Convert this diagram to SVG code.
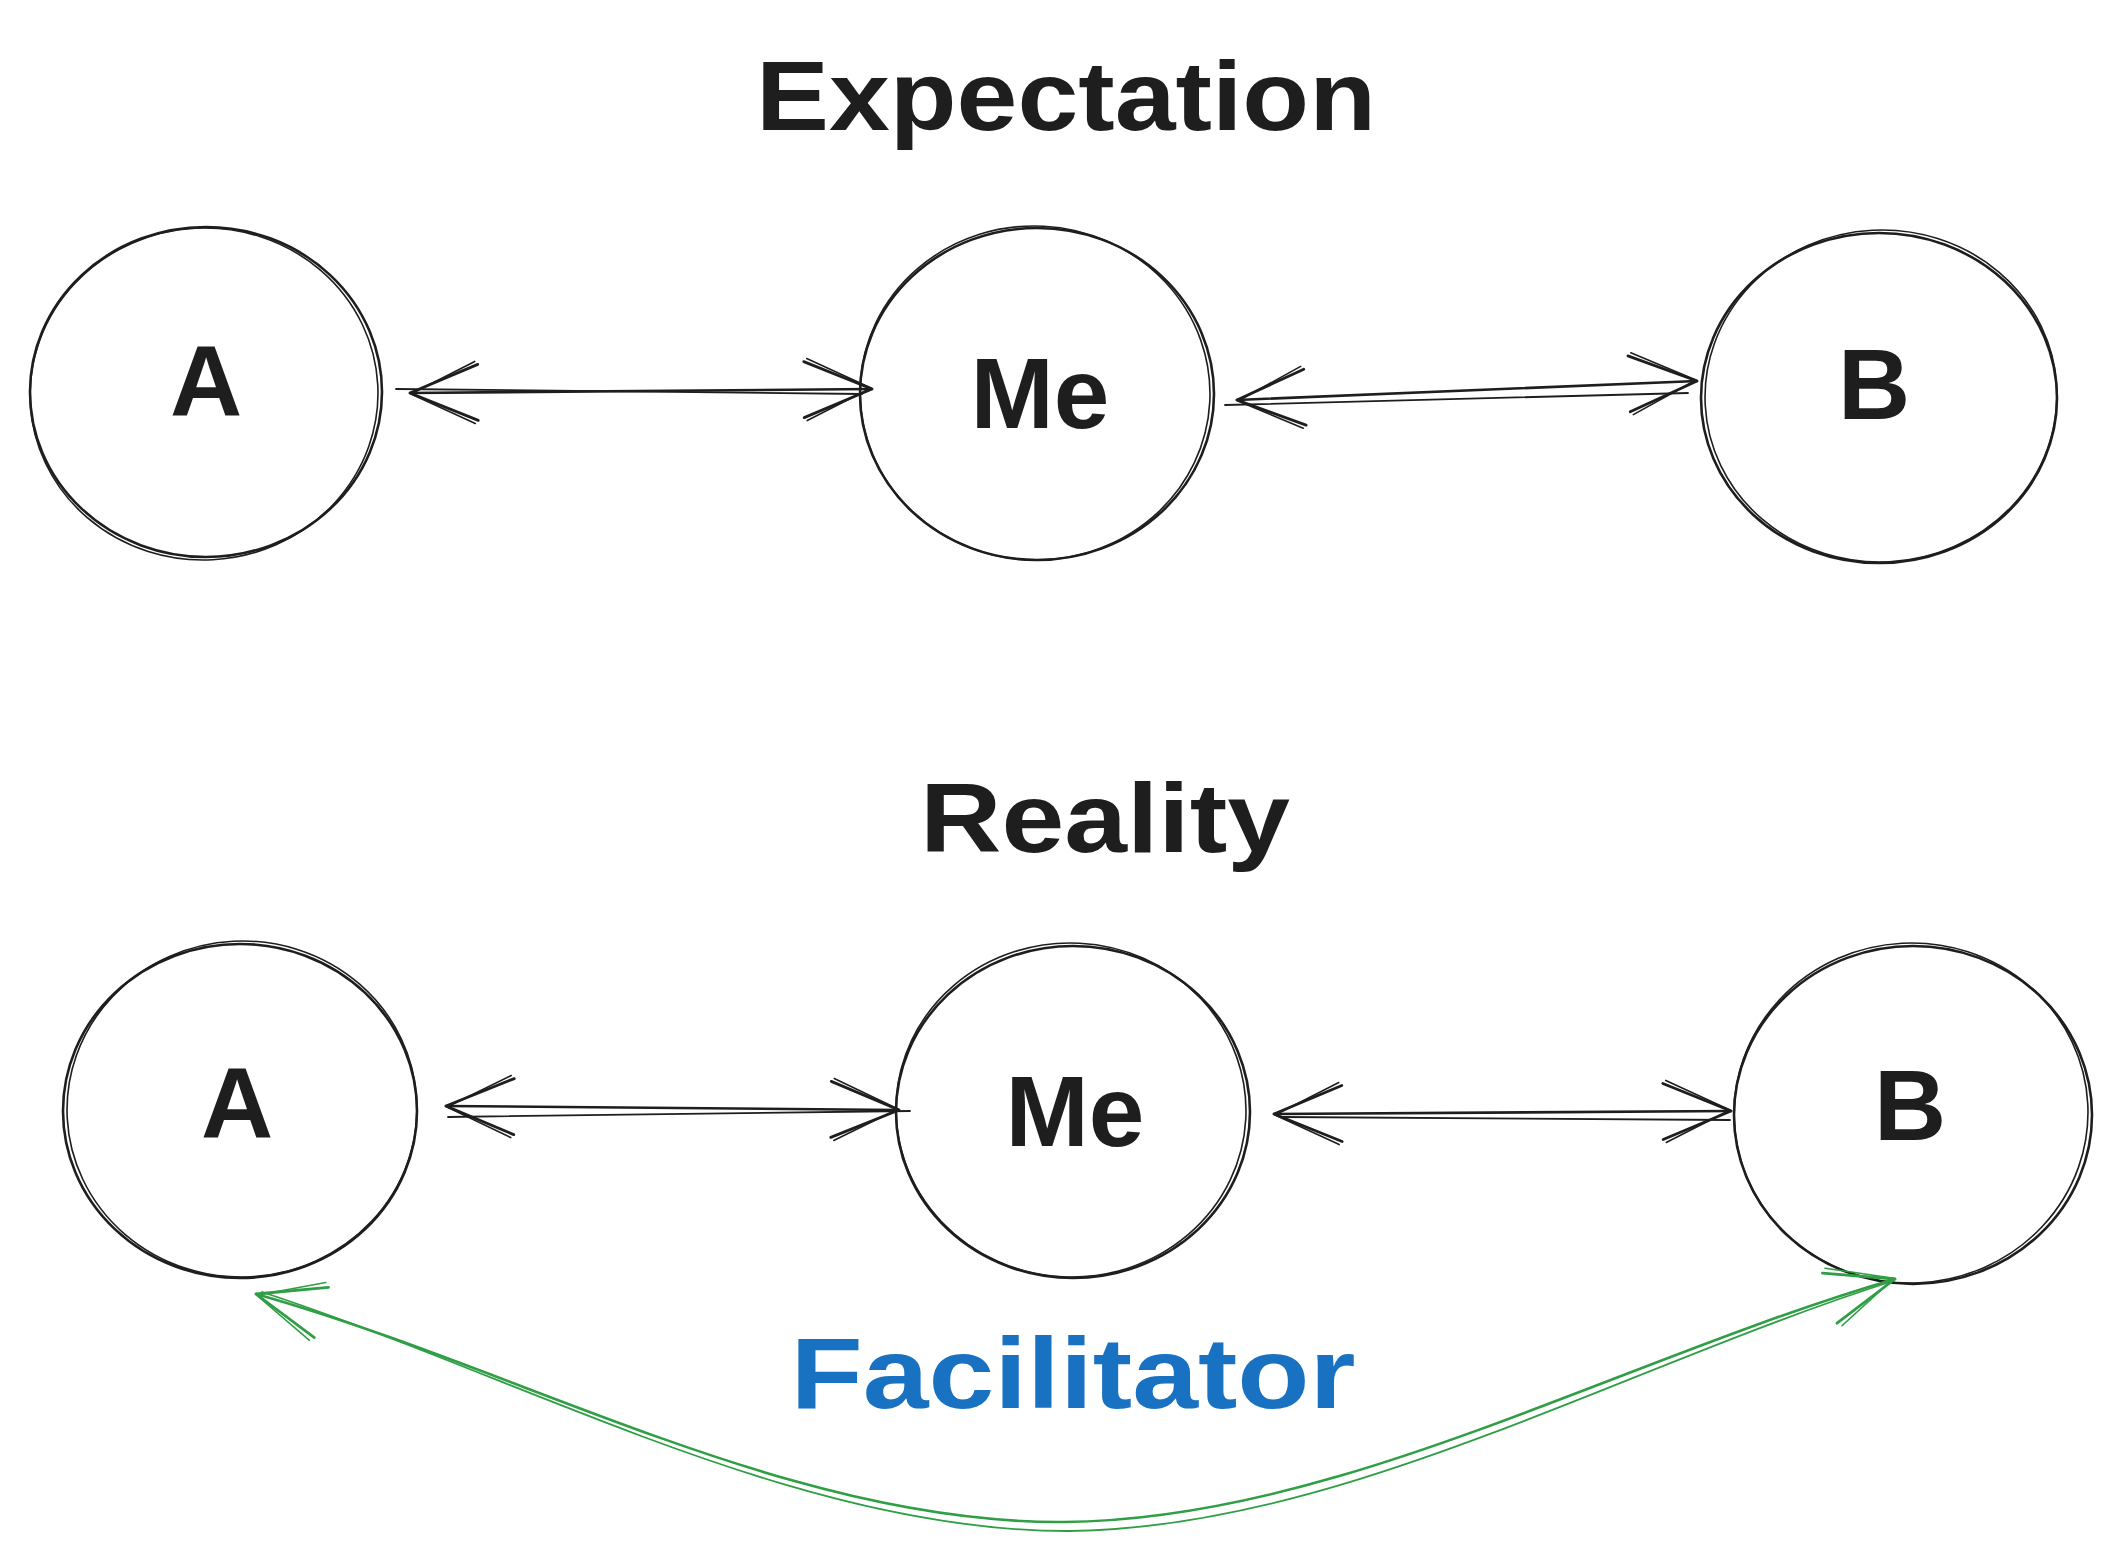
<svg xmlns="http://www.w3.org/2000/svg" width="2120" height="1553" viewBox="0 0 2120 1553">
<style>
.bg{fill:#ffffff}
.o{fill:none;stroke:#1e1e1e;stroke-width:2.6;stroke-linecap:round}
.o2{fill:none;stroke:#1e1e1e;stroke-width:1.6;stroke-linecap:round}
.c{fill:none;stroke:#1e1e1e;stroke-width:2.6;stroke-linecap:round}
.c2{fill:none;stroke:#1e1e1e;stroke-width:1.8;stroke-linecap:round}
.g{fill:none;stroke:#2f9e44;stroke-width:2.6;stroke-linecap:round}
.g2{fill:none;stroke:#2f9e44;stroke-width:1.8;stroke-linecap:round}
.t{font-family:"Liberation Sans","DejaVu Sans",sans-serif;font-weight:bold;fill:#1e1e1e;text-anchor:middle}
.lbl{font-size:100px}
.ttl{font-size:98px}
.fac{font-size:100px;fill:#1971c2}
</style>
<defs>
<marker id="arr" markerUnits="userSpaceOnUse" markerWidth="90" markerHeight="90" viewBox="0 0 90 90" refX="75" refY="45" orient="auto-start-reverse">
<path d="M 7 17 L 75 45 L 7 73" fill="none" stroke="#1e1e1e" stroke-width="2.8" stroke-linecap="round" stroke-linejoin="round"/>
<path d="M 10 14 L 74 44 L 10 76" fill="none" stroke="#1e1e1e" stroke-width="1.6" stroke-linecap="round" stroke-linejoin="round"/>
</marker>
<marker id="arrg" markerUnits="userSpaceOnUse" markerWidth="90" markerHeight="90" viewBox="0 0 90 90" refX="75" refY="45" orient="auto-start-reverse">
<path d="M 7 19 L 75 45 L 7 71" fill="none" stroke="#2f9e44" stroke-width="2.8" stroke-linecap="round" stroke-linejoin="round"/>
<path d="M 11 15 L 74 44 L 11 75" fill="none" stroke="#2f9e44" stroke-width="1.6" stroke-linecap="round" stroke-linejoin="round"/>
</marker>
</defs>
<rect class="bg" x="0" y="0" width="2120" height="1553"/>

<g id="title-expectation">
<text class="t ttl" x="1066" y="130" textLength="620" lengthAdjust="spacingAndGlyphs">Expectation</text>
</g>
<g id="title-reality">
<text class="t ttl" x="1105" y="852" textLength="370" lengthAdjust="spacingAndGlyphs">Reality</text>
</g>

<g id="node-A-expectation">
<ellipse class="o" cx="206" cy="392" rx="176" ry="165"/>
<ellipse class="o2" cx="204" cy="394" rx="174" ry="166" transform="rotate(-3 204 394)"/>
<text class="t lbl" x="206" y="416">A</text>
</g>
<g id="node-Me-expectation">
<ellipse class="o" cx="1037" cy="394" rx="177" ry="166"/>
<ellipse class="o2" cx="1035" cy="393" rx="175" ry="167" transform="rotate(3 1035 393)"/>
<text class="t lbl" x="1040" y="428">Me</text>
</g>
<g id="node-B-expectation">
<ellipse class="o" cx="1879" cy="398" rx="178" ry="165"/>
<ellipse class="o2" cx="1881" cy="396" rx="176" ry="166" transform="rotate(-3 1881 396)"/>
<text class="t lbl" x="1874" y="419">B</text>
</g>

<g id="node-A-reality">
<ellipse class="o" cx="240" cy="1111" rx="177" ry="167"/>
<ellipse class="o2" cx="242" cy="1109" rx="175" ry="168" transform="rotate(-3 242 1109)"/>
<text class="t lbl" x="237" y="1138">A</text>
</g>
<g id="node-Me-reality">
<ellipse class="o" cx="1073" cy="1112" rx="177" ry="166"/>
<ellipse class="o2" cx="1071" cy="1110" rx="175" ry="167" transform="rotate(3 1071 1110)"/>
<text class="t lbl" x="1075" y="1146">Me</text>
</g>
<g id="node-B-reality">
<ellipse class="o" cx="1913" cy="1115" rx="179" ry="169"/>
<ellipse class="o2" cx="1911" cy="1113" rx="177" ry="170" transform="rotate(-3 1911 1113)"/>
<text class="t lbl" x="1910" y="1140">B</text>
</g>

<g id="label-facilitator">
<text class="t fac" x="1073" y="1408" textLength="565" lengthAdjust="spacingAndGlyphs">Facilitator</text>
</g>

<g id="connectors">
<path class="c" d="M 410 393 L 872 389" marker-start="url(#arr)" marker-end="url(#arr)"/>
<path class="c2" d="M 396 389 L 862 394"/>
<path class="c" d="M 1237 400 L 1697 381" marker-start="url(#arr)" marker-end="url(#arr)"/>
<path class="c2" d="M 1225 405 L 1688 393"/>
<path class="c" d="M 446 1106 L 899 1110" marker-start="url(#arr)" marker-end="url(#arr)"/>
<path class="c2" d="M 448 1117 L 910 1111"/>
<path class="c" d="M 1274 1114 L 1731 1111" marker-start="url(#arr)" marker-end="url(#arr)"/>
<path class="c2" d="M 1282 1117 L 1730 1120"/>
<path class="g" d="M 256 1294 C 525 1370 791 1524 1064 1522 C 1337 1520 1618 1360 1895 1279" marker-start="url(#arrg)" marker-end="url(#arrg)"/>
<path class="g2" d="M 262 1292 C 530 1380 800 1532 1070 1531 C 1340 1528 1620 1368 1893 1281"/>
</g>
</svg>
